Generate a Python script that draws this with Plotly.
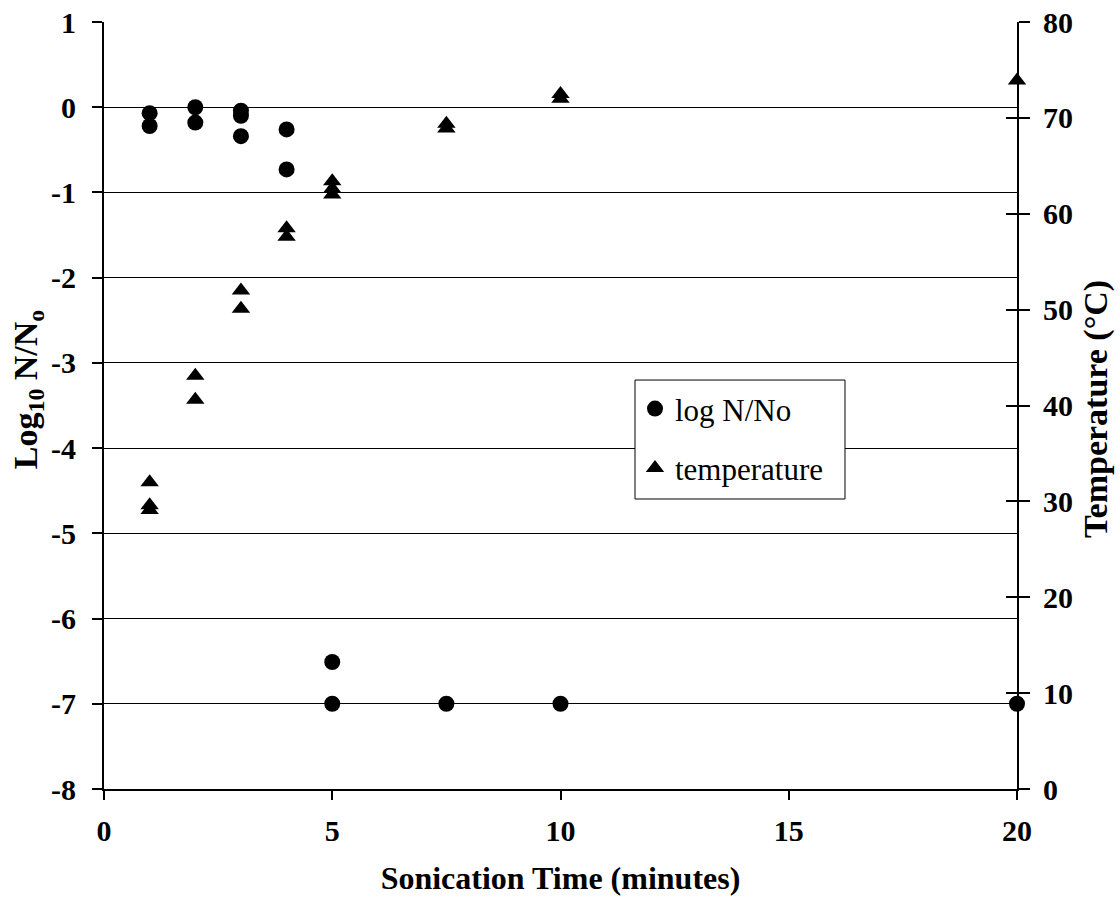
import plotly.graph_objects as go

# Survival (log10 N/No) against sonication time
log_time = [1, 1, 2, 2, 3, 3, 3, 4, 4, 5, 5, 7.5, 10, 20]
log_ratio = [-0.07, -0.22, 0.0, -0.18, -0.04, -0.10, -0.34, -0.26, -0.73,
             -6.51, -7.0, -7.0, -7.0, -7.0]

# Sample temperature against sonication time
temp_time = [1, 1, 1, 2, 2, 3, 3, 4, 4, 5, 5, 5, 7.5, 7.5, 10, 10, 20]
temp_c = [32.0, 29.6, 29.1, 43.1, 40.6, 52.0, 50.1, 58.5, 57.6,
          63.4, 62.6, 62.0, 69.4, 68.9, 72.5, 72.0, 73.9]

x_ticks = [0, 5, 10, 15, 20]
left_ticks = list(range(-8, 2))
left_labels = [str(v) for v in left_ticks]
right_ticks = list(range(0, 90, 10))

FONT = "Liberation Serif"


def bold(values):
    return ["<b>%s</b>" % v for v in values]


fig = go.Figure()
fig.add_trace(go.Scatter(
    x=log_time, y=log_ratio, mode="markers", name="log N/No",
    legendgroup="a", cliponaxis=False,
    marker=dict(symbol="circle", size=16, color="black"),
))
fig.add_trace(go.Scatter(
    x=temp_time, y=temp_c, mode="markers", name="temperature",
    legendgroup="b", yaxis="y2", cliponaxis=False,
    marker=dict(symbol="triangle-up", size=16, color="black"),
))
# empty trace so the inner tick set of the right axis is rendered
fig.add_trace(go.Scatter(x=[], y=[], yaxis="y3", showlegend=False,
                         hoverinfo="skip"))

tick_font = dict(family=FONT, size=30, color="black")
title_font = dict(family=FONT, size=32, color="black")
vtitle_font = dict(family=FONT, size=34, color="black")

fig.update_layout(
    width=1120, height=903,
    margin=dict(l=104, r=103, t=22, b=114),
    paper_bgcolor="white", plot_bgcolor="white",
    font=dict(family=FONT, color="black"),
    showlegend=True,
    legend=dict(
        x=0.5816, y=0.5307, xanchor="left", yanchor="top",
        borderwidth=0, bgcolor="rgba(0,0,0,0)",
        font=dict(family=FONT, size=31, color="black"),
        tracegroupgap=16,
    ),
    # frame behind the legend entries
    shapes=[dict(
        type="rect", xref="paper", yref="paper", layer="above",
        x0=0.5816, x1=0.8116, y0=0.3781, y1=0.5332,
        line=dict(color="black", width=1), fillcolor="white",
    )],
    annotations=[
        dict(text="<b>Log<sub>10</sub> N/N<sub>o</sub></b>", textangle=-90,
             xref="paper", yref="paper", x=-0.0832, y=0.520,
             xanchor="center", yanchor="middle", showarrow=False,
             font=vtitle_font),
        dict(text="<b>Temperature (°C)</b>", textangle=-90,
             xref="paper", yref="paper", x=1.0865, y=0.4954,
             xanchor="center", yanchor="middle", showarrow=False,
             font=vtitle_font),
    ],
    xaxis=dict(
        range=[0, 20], tickvals=x_ticks, ticktext=bold(x_ticks),
        ticks="outside", ticklen=9, tickwidth=1.5, tickcolor="black",
        ticklabelstandoff=5, automargin=False,
        showline=True, linecolor="black", linewidth=1.5,
        showgrid=False, zeroline=False, tickfont=tick_font,
        title=dict(text="<b>Sonication Time (minutes)</b>", font=title_font,
                   standoff=21),
    ),
    yaxis=dict(
        range=[-8, 1], tickvals=left_ticks, ticktext=bold(left_labels),
        ticks="outside", ticklen=10, tickwidth=1.5, tickcolor="black",
        ticklabelstandoff=10, automargin=False,
        showline=True, linecolor="black", linewidth=2,
        showgrid=True, gridcolor="black", gridwidth=1,
        zeroline=False, tickfont=tick_font,
    ),
    yaxis2=dict(
        range=[0, 80], tickvals=right_ticks, ticktext=bold(right_ticks),
        overlaying="y", side="right", anchor="x",
        ticks="outside", ticklen=11, tickwidth=1.5, tickcolor="black",
        ticklabelstandoff=7, automargin=False,
        showline=True, linecolor="black", linewidth=2,
        showgrid=False, zeroline=False, tickfont=tick_font,
    ),
    yaxis3=dict(
        range=[0, 80], tickvals=right_ticks,
        overlaying="y", side="right", anchor="x",
        ticks="inside", ticklen=11, tickwidth=1.5, tickcolor="black",
        showticklabels=False, showline=False, automargin=False,
        showgrid=False, zeroline=False,
    ),
)

fig.write_html("out.html")
